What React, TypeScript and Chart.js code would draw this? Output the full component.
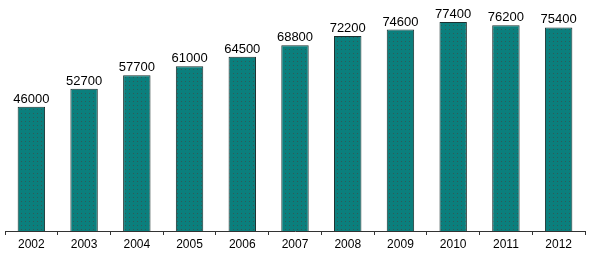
import React, { useEffect, useRef } from "react";
import { Chart, registerables } from "chart.js";

Chart.register(...registerables);

const categories = ["2002", "2003", "2004", "2005", "2006", "2007", "2008", "2009", "2010", "2011", "2012"];
const values = [46000, 52700, 57700, 61000, 64500, 68800, 72200, 74600, 77400, 76200, 75400];

function makePattern(): CanvasPattern | string {
  const c = document.createElement("canvas");
  c.width = 4;
  c.height = 4;
  const ctx = c.getContext("2d");
  if (!ctx) return "#0b7f7d";
  ctx.fillStyle = "#0b7f7d";
  ctx.fillRect(0, 0, 4, 4);
  ctx.fillStyle = "#2f5a58";
  ctx.fillRect(1, 1, 1, 1);
  const p = ctx.createPattern(c, "repeat");
  return p || "#0b7f7d";
}

const labelPlugin = {
  id: "valueLabels",
  afterDatasetsDraw(chart: any) {
    const ctx = chart.ctx;
    const meta = chart.getDatasetMeta(0);
    ctx.save();
    ctx.font = "13px 'Liberation Sans', Arial, sans-serif";
    ctx.fillStyle = "#000";
    ctx.textAlign = "center";
    ctx.textBaseline = "bottom";
    meta.data.forEach((el: any, i: number) => {
      ctx.fillText(String(values[i]), el.x, el.y - 1);
    });
    ctx.restore();
  },
};

export default function App() {
  const ref = useRef<HTMLCanvasElement>(null);
  useEffect(() => {
    if (!ref.current) return;
    const chart = new Chart(ref.current, {
      type: "bar",
      data: {
        labels: categories,
        datasets: [
          {
            data: values,
            backgroundColor: makePattern() as any,
            borderColor: "#1a302f",
            borderWidth: 1,
            categoryPercentage: 1,
            barPercentage: 0.52,
          },
        ],
      },
      options: {
        responsive: false,
        animation: false,
        events: [],
        layout: { padding: { left: 5, right: 4, top: 15, bottom: 0 } },
        plugins: { legend: { display: false }, tooltip: { enabled: false } },
        scales: {
          y: { display: false, min: 0, max: 80000 },
          x: {
            afterFit: (s: any) => {
              s.height = 26;
            },
            grid: {
              display: true,
              drawOnChartArea: false,
              offset: true,
              tickLength: 4,
              color: "#333",
            },
            border: { display: true, color: "#333", width: 1 },
            ticks: {
              color: "#000",
              padding: 2,
              maxRotation: 0,
              font: { family: "'Liberation Sans', Arial, sans-serif", size: 12 },
            },
          },
        },
      },
      plugins: [labelPlugin],
    });
    return () => chart.destroy();
  }, []);
  return (
    <div style={{ position: "fixed", left: 0, top: 0, width: 589, height: 257, background: "#fff" }}>
      <canvas ref={ref} width={589} height={257} style={{ width: 589, height: 257 }} />
    </div>
  );
}
